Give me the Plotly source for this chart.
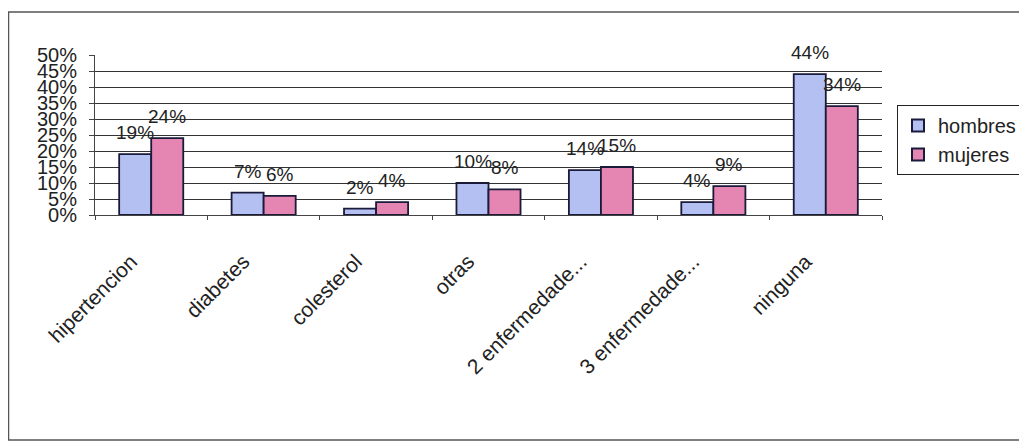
import plotly.graph_objects as go

categories = ["hipertencion", "diabetes", "colesterol", "otras",
              "2 enfermedade...", "3 enfermedade...", "ninguna"]
hombres = [19, 7, 2, 10, 14, 4, 44]
mujeres = [24, 6, 4, 8, 15, 9, 34]
y_ticks = [0, 5, 10, 15, 20, 25, 30, 35, 40, 45, 50]
y_tick_labels = [f"{v}%" for v in y_ticks]

# the page body adds an 8px margin; the figure is sized to fit the window
W, H = 1019, 438
ml, mr, mt, mb = 87, 145, 47, 231
pw = W - ml - mr
ph = H - mt - mb
bar_px = 32
FONT = "Liberation Sans, Arial"

xpos = list(range(len(categories)))

fig = go.Figure()
fig.add_trace(go.Bar(
    name="hombres", x=xpos, y=hombres,
    marker=dict(color="#b4c0f2", line=dict(color="#1a1a3a", width=1.8)),
))
fig.add_trace(go.Bar(
    name="mujeres", x=xpos, y=mujeres,
    marker=dict(color="#e585b2", line=dict(color="#1a1a3a", width=1.8)),
))

for vals, shift in ((hombres, -bar_px / 2), (mujeres, bar_px / 2)):
    for i, v in zip(xpos, vals):
        fig.add_annotation(x=i, y=v, xref="x", yref="y", text=f"{v}%",
                           showarrow=False, xshift=shift, yshift=9,
                           yanchor="bottom",
                           font=dict(family=FONT, size=19, color="#222"))

# outer frame of the chart
fig.add_shape(type="rect", xref="paper", yref="paper",
              x0=(0.5 - ml) / pw, x1=(1018 - ml) / pw,
              y0=(H - mb - 432) / ph, y1=(H - mb - 4) / ph,
              line=dict(color="#555", width=1.5), fillcolor="rgba(0,0,0,0)", layer="below")

fig.update_layout(
    width=W, height=H,
    margin=dict(l=ml, r=mr, t=mt, b=mb, autoexpand=False),
    paper_bgcolor="white", plot_bgcolor="white",
    barmode="group", bargap=0.43, bargroupgap=0,
    font=dict(family=FONT, color="#222"),
    showlegend=True,
    legend=dict(x=(889 - ml) / pw, y=(ph - (97 - mt)) / ph,
                xanchor="left", yanchor="top",
                bordercolor="#222", borderwidth=1, bgcolor="white",
                font=dict(size=20), itemsizing="constant", itemwidth=30,
                tracegroupgap=0),
    xaxis=dict(range=[-0.5, len(categories) - 0.5],
               tickvals=[i - 0.18 for i in xpos], ticktext=categories,
               tickangle=-45, tickfont=dict(size=21), automargin=False,
               showline=True, linecolor="#444", linewidth=1,
               ticks="", showgrid=False, zeroline=False,
               ticklabelstandoff=25,
               minor=dict(tickvals=[i - 0.5 for i in range(len(categories) + 1)],
                          ticks="outside", ticklen=4, tickcolor="#444",
                          showgrid=False)),
    yaxis=dict(range=[0, 50], tickvals=y_ticks, ticktext=y_tick_labels,
               tickfont=dict(size=20), showgrid=True, gridcolor="#333",
               gridwidth=1, showline=True, linecolor="#444", automargin=False,
               ticks="outside", ticklen=5, tickcolor="#444", zeroline=False,
               ticklabelstandoff=8),
)

fig.write_html("out.html")
